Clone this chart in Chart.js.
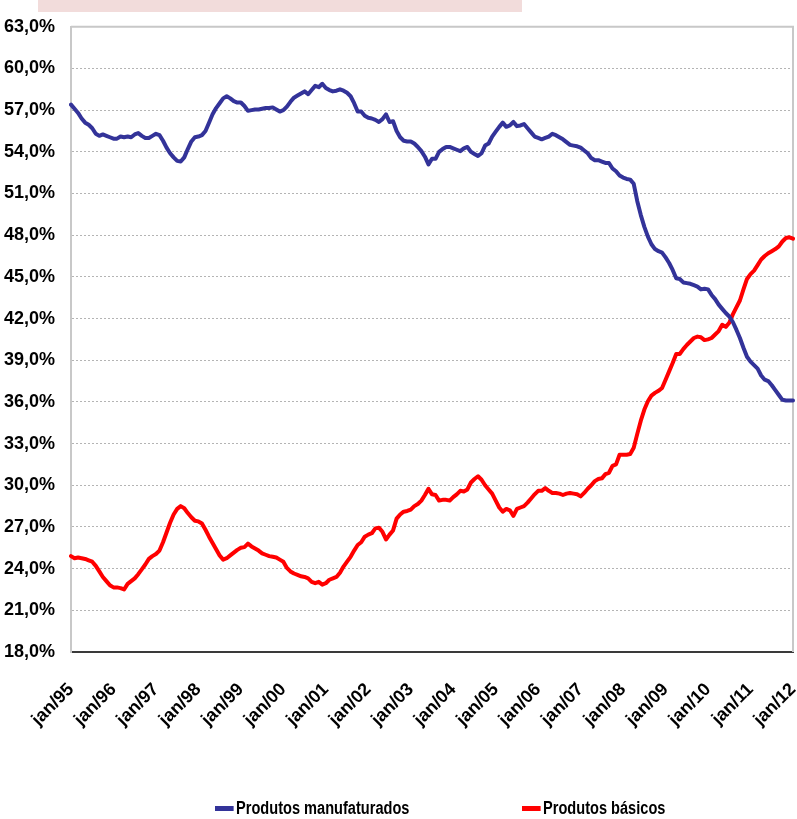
<!DOCTYPE html>
<html>
<head>
<meta charset="utf-8">
<script src="https://cdn.jsdelivr.net/npm/chart.js@4.4.0/dist/chart.umd.min.js"></script>
<style>
  html, body { margin: 0; padding: 0; background: #fff; }
  #wrap { position: relative; width: 797px; height: 819px; overflow: hidden; background: #fff; }
  #chart { position: absolute; left: 0; top: 0; }
  #band { position: absolute; left: 38px; top: 0; width: 484px; height: 12px; background: #f2dcdb; }
  #legend { position: absolute; left: 0; top: 797px; width: 797px; height: 22px;
            font: bold 18px 'Liberation Sans', Arial, sans-serif; color: #000; }
  .item { position: absolute; top: 0; height: 22px; display: flex; align-items: center; white-space: nowrap;
          transform-origin: 0 50%; transform: scaleX(0.81); }
  .swatch { width: 23px; height: 5px; margin-right: 3px; }
</style>
</head>
<body>
<div id="wrap">
  <canvas id="chart" width="797" height="819"></canvas>
  <div id="band"></div>
  <div id="legend"></div>
</div>
<script>
// Month abbreviations and years used to build the monthly category labels
const monthNames = ['jan','fev','mar','abr','mai','jun','jul','ago','set','out','nov','dez'];
const years = ['95','96','97','98','99','00','01','02','03','04','05','06','07','08','09','10','11','12'];

// Y axis ticks (%)
const yTicks = [18, 21, 24, 27, 30, 33, 36, 39, 42, 45, 48, 51, 54, 57, 60, 63];

// Series names
const seriesNames = ['Produtos manufaturados', 'Produtos básicos'];

// Share of manufactured goods (%), monthly jan/95 - jan/12
const manufaturados = [
  57.4, 57.1, 56.8, 56.4, 56.1, 55.95, 55.7, 55.3, 55.15, 55.25, 55.15, 55.05,
  54.95, 54.95, 55.1, 55.05, 55.1, 55.05, 55.25, 55.35, 55.15, 55.0, 55.0, 55.15,
  55.3, 55.2, 54.8, 54.3, 53.9, 53.6, 53.35, 53.3, 53.6, 54.2, 54.75, 55.05,
  55.1, 55.2, 55.5, 56.1, 56.7, 57.15, 57.5, 57.85, 58.0, 57.85, 57.65, 57.55,
  57.55, 57.3, 56.95, 57.0, 57.05, 57.05, 57.1, 57.15, 57.15, 57.2, 57.05, 56.9,
  57.0, 57.25, 57.6, 57.9, 58.05, 58.2, 58.35, 58.15, 58.45, 58.75, 58.65, 58.9,
  58.6, 58.45, 58.35, 58.4, 58.5, 58.4, 58.25, 58.0, 57.5, 56.9, 56.9, 56.6,
  56.45, 56.4, 56.3, 56.15, 56.35, 56.7, 56.15, 56.2, 55.5, 55.05, 54.8, 54.75,
  54.75, 54.6, 54.35, 54.05, 53.65, 53.1, 53.5, 53.5, 54.0, 54.2, 54.35, 54.35,
  54.25, 54.15, 54.05, 54.25, 54.35, 54.0, 53.85, 53.7, 53.9, 54.45, 54.6, 55.1,
  55.45, 55.8, 56.1, 55.8, 55.9, 56.15, 55.85, 55.9, 56.0, 55.7, 55.4, 55.1,
  55.0, 54.9, 55.0, 55.1, 55.3, 55.2, 55.05, 54.9, 54.7, 54.5, 54.45, 54.4,
  54.3, 54.1, 53.9, 53.55, 53.4, 53.4, 53.3, 53.2, 53.2, 52.8, 52.6, 52.3,
  52.15, 52.05, 52.0, 51.7, 50.45, 49.45, 48.6, 47.9, 47.35, 47.0, 46.85, 46.75,
  46.4, 46.0, 45.5, 44.9, 44.85, 44.6, 44.55, 44.5, 44.4, 44.3, 44.1, 44.15,
  44.1, 43.7, 43.4, 43.0, 42.7, 42.4, 42.15, 41.75, 41.2, 40.6, 39.9, 39.25,
  38.9, 38.65, 38.4, 37.9, 37.6, 37.5, 37.2, 36.85, 36.5, 36.15, 36.1, 36.1,
  36.1
];

// Share of basic goods (%), monthly jan/95 - jan/12
const basicos = [
  24.9, 24.75, 24.8, 24.75, 24.7, 24.6, 24.5, 24.2, 23.8, 23.4, 23.1, 22.8,
  22.65, 22.65, 22.6, 22.5, 22.9, 23.1, 23.3, 23.6, 23.95, 24.3, 24.7, 24.9,
  25.05, 25.3, 25.9, 26.6, 27.3, 27.9, 28.3, 28.5, 28.35, 28.0, 27.7, 27.45,
  27.4, 27.25, 26.8, 26.3, 25.85, 25.4, 24.95, 24.65, 24.75, 24.95, 25.15, 25.35,
  25.5, 25.55, 25.8, 25.6, 25.45, 25.3, 25.1, 25.0, 24.9, 24.85, 24.8, 24.65,
  24.5, 24.05, 23.8, 23.65, 23.55, 23.45, 23.4, 23.3, 23.05, 22.95, 23.05, 22.85,
  22.95, 23.2, 23.3, 23.4, 23.7, 24.15, 24.5, 24.85, 25.3, 25.7, 25.9, 26.3,
  26.45, 26.55, 26.9, 26.95, 26.65, 26.1, 26.45, 26.75, 27.6, 27.9, 28.1, 28.15,
  28.25, 28.5, 28.65, 28.9, 29.3, 29.75, 29.35, 29.3, 28.9, 28.95, 28.95, 28.9,
  29.15, 29.35, 29.6, 29.55, 29.7, 30.2, 30.45, 30.65, 30.4, 30.0, 29.7, 29.4,
  28.9, 28.4, 28.1, 28.3, 28.2, 27.8, 28.3, 28.4, 28.5, 28.75, 29.05, 29.35,
  29.6, 29.6, 29.8, 29.6, 29.45, 29.45, 29.4, 29.3, 29.4, 29.45, 29.4, 29.35,
  29.2, 29.45, 29.75, 30.0, 30.3, 30.45, 30.5, 30.8, 30.9, 31.4, 31.5, 32.2,
  32.2, 32.2, 32.25, 32.7, 33.7, 34.65, 35.45, 36.05, 36.45, 36.65, 36.8, 37.0,
  37.6, 38.2, 38.8, 39.45, 39.45, 39.8, 40.1, 40.35, 40.6, 40.7, 40.65, 40.45,
  40.5, 40.6, 40.85, 41.1, 41.55, 41.4, 41.7, 42.3, 42.8, 43.3, 44.1, 44.85,
  45.2, 45.45, 45.85, 46.25, 46.5, 46.7, 46.85, 47.0, 47.2, 47.55, 47.8, 47.85,
  47.75
];

const seriesColors = ['#333399', '#ff0000'];

// Monthly category labels: jan/95 ... jan/12
const categories = [];
years.forEach(y => {
  monthNames.forEach(m => {
    if (categories.length < manufaturados.length) categories.push(m + '/' + y);
  });
});

const FONT = "'Liberation Sans', Arial, sans-serif";

// Light plot-area frame (top and right edges)
const plotFrame = {
  id: 'plotFrame',
  beforeDatasetsDraw(chart) {
    const { ctx, chartArea: a } = chart;
    ctx.save();
    ctx.strokeStyle = '#c8c8c8';
    ctx.lineWidth = 2;
    ctx.beginPath();
    ctx.moveTo(a.left, a.top);
    ctx.lineTo(a.right, a.top);
    ctx.lineTo(a.right, a.bottom);
    ctx.stroke();
    ctx.restore();
  }
};

const canvas = document.getElementById('chart');
// Tighter tracking for the axis labels
canvas.getContext('2d').letterSpacing = '-0.7px';

new Chart(canvas, {
  type: 'line',
  data: {
    labels: categories,
    datasets: [
      { label: seriesNames[0], data: manufaturados, borderColor: seriesColors[0], backgroundColor: seriesColors[0],
        borderWidth: 4, pointRadius: 0, tension: 0, borderJoinStyle: 'round', borderCapStyle: 'round' },
      { label: seriesNames[1], data: basicos, borderColor: seriesColors[1], backgroundColor: seriesColors[1],
        borderWidth: 4, pointRadius: 0, tension: 0, borderJoinStyle: 'round', borderCapStyle: 'round' }
    ]
  },
  options: {
    responsive: false,
    animation: false,
    layout: { padding: { top: 19, right: 4, left: 0, bottom: 0 } },
    plugins: { legend: { display: false }, tooltip: { enabled: false } },
    scales: {
      x: {
        type: 'category',
        offset: false,
        grid: { display: false, drawTicks: false },
        border: { display: true, color: '#3a3a3a', width: 2 },
        ticks: {
          autoSkip: false,
          minRotation: 45,
          maxRotation: 45,
          padding: 27,
          color: '#000',
          font: { family: FONT, size: 18, weight: 'bold' },
          callback: (v, i) => (i % 12 === 0 ? categories[i] : null)
        },
        afterFit: s => { s.height = 167; s.paddingLeft = 0; s.paddingRight = 0; }
      },
      y: {
        min: yTicks[0],
        max: yTicks[yTicks.length - 1],
        afterBuildTicks: s => { s.ticks = yTicks.map(v => ({ value: v })); },
        grid: { color: '#b4b4b4', lineWidth: 1, drawTicks: false },
        border: { display: true, color: '#c8c8c8', width: 2, dash: [2, 2] },
        ticks: {
          padding: 16,
          color: '#000',
          font: { family: FONT, size: 18, weight: 'bold' },
          callback: v => v.toFixed(1).replace('.', ',') + '%'
        },
        afterFit: s => { s.width = 71; }
      }
    }
  },
  plugins: [plotFrame]
});

// Legend below the plot
const legendEl = document.getElementById('legend');
const legendX = [215, 522];
seriesNames.forEach((name, i) => {
  const item = document.createElement('div');
  item.className = 'item';
  item.style.left = legendX[i] + 'px';
  const sw = document.createElement('span');
  sw.className = 'swatch';
  sw.style.background = seriesColors[i];
  const tx = document.createElement('span');
  tx.textContent = name;
  item.appendChild(sw);
  item.appendChild(tx);
  legendEl.appendChild(item);
});
</script>
</body>
</html>
